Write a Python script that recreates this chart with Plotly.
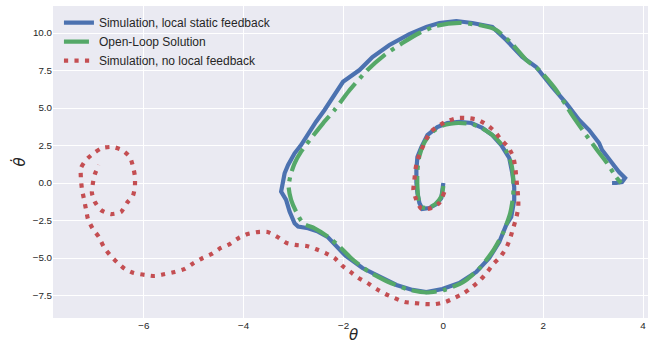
import plotly.graph_objects as go

# ---- data ----
blue_theta = [0.0, -0.01, -0.04, -0.14, -0.28, -0.42, -0.48, -0.52, -0.54, -0.54, -0.52, -0.44, -0.32, -0.12,
              0.08, 0.32, 0.56, 0.78, 0.98, 1.16, 1.32, 1.38, 1.42, 1.42, 1.36, 1.26, 1.12, 0.92, 0.66, 0.32,
              -0.02, -0.34, -0.62, -0.94, -1.28, -1.62, -1.96, -2.15, -2.31, -2.51, -2.71, -2.91, -2.98, -3.08,
              -3.15, -3.25, -3.21, -3.18, -3.11, -2.98, -2.85, -2.71, -2.55, -2.38, -2.25, -2.01, -1.68, -1.42,
              -1.08, -0.68, -0.34, -0.08, 0.26, 0.58, 0.98, 1.26, 1.58, 1.86, 2.18, 2.46, 2.72, 2.92, 3.12, 3.18,
              3.38, 3.52, 3.64, 3.58, 3.46, 3.38]
blue_thetadot = [0.0, -0.47, -1.0, -1.4, -1.67, -1.73, -1.33, -0.67, 0.0, 0.87, 1.73, 2.4, 3.2, 3.73,
                 4.0, 4.07, 4.0, 3.67, 3.2, 2.53, 1.67, 0.67, -0.27, -1.13, -2.27, -2.8, -3.93, -5.0, -5.93, -6.67,
                 -7.07, -7.27, -7.13, -6.8, -6.27, -5.67, -4.85, -4.13, -3.62, -3.24, -3.02, -2.91, -2.69, -1.91,
                 -1.13, -0.58, -0.02, 0.65, 1.2, 1.98, 2.53, 3.31, 4.09, 4.87, 5.53, 6.75, 7.53, 8.4,
                 9.2, 9.93, 10.4, 10.67, 10.8, 10.67, 10.4, 9.53, 8.4, 7.73, 6.4, 5.33, 4.2, 3.53, 2.67, 2.2,
                 1.33, 0.73, 0.33, 0.07, 0.0, 0.0]

green_theta = [0.0, -0.04, -0.16, -0.3, -0.44, -0.5, -0.52, -0.52, -0.48, -0.38, -0.22, 0.0, 0.3, 0.6,
               0.85, 1.05, 1.25, 1.36, 1.4, 1.4, 1.34, 1.2, 1.0, 0.72, 0.4, 0.0, -0.34, -0.7, -1.1, -1.5,
               -1.85, -2.08, -2.31, -2.58, -2.81, -2.95, -3.05, -3.1, -3.06, -2.98, -2.85, -2.65, -2.41, -2.18,
               -1.9, -1.52, -1.18, -0.82, -0.48, -0.14, 0.32, 0.72, 1.06, 1.36, 1.66, 1.92, 2.26, 2.58, 2.86,
               3.08, 3.28, 3.46, 3.56]
green_thetadot = [-0.2, -0.9, -1.4, -1.65, -1.6, -1.0, -0.2, 0.8, 1.8, 2.7, 3.4, 3.85, 4.0, 3.9,
                  3.5, 3.0, 2.2, 1.3, 0.3, -0.8, -2.0, -3.3, -4.5, -5.7, -6.6, -7.15, -7.3, -7.1, -6.6, -5.9,
                  -5.0, -4.24, -3.58, -3.02, -2.69, -1.91, -1.13, -0.24, 0.53, 1.31, 2.09, 2.98, 3.98, 4.87,
                  6.1, 7.53, 8.53, 9.33, 10.0, 10.47, 10.67, 10.53, 10.2, 9.33, 8.2, 7.53, 6.2, 4.53, 3.2,
                  2.2, 1.33, 0.4, 0.0]

red_theta = [0.02, -0.08, -0.24, -0.44, -0.54, -0.6, -0.58, -0.56, -0.52, -0.44, -0.36, -0.26, -0.1, 0.08,
             0.28, 0.48, 0.7, 0.88, 1.04, 1.16, 1.3, 1.4, 1.44, 1.46, 1.48, 1.5, 1.5, 1.46, 1.4, 1.34, 1.26,
             1.14, 1.0, 0.88, 0.74, 0.58, 0.42, 0.22, 0.04, -0.16, -0.36, -0.58, -0.78, -0.98, -1.16, -1.34,
             -1.52, -1.7, -1.86, -2.02, -2.18, -2.36, -2.56, -2.74, -2.96, -3.14, -3.32, -3.52, -3.72, -3.92,
             -4.1, -4.28, -4.46, -4.64, -4.82, -5.0, -5.18, -5.38, -5.58, -5.78, -5.98, -6.2, -6.38, -6.54,
             -6.68, -6.8, -6.9, -7.02, -7.12, -7.16, -7.2, -7.24, -7.26, -7.26, -7.16, -7.0, -6.84, -6.62,
             -6.44, -6.28, -6.22, -6.18, -6.18, -6.22, -6.34, -6.46, -6.66, -6.86, -6.98, -7.04, -7.02, -6.98,
             -6.9]
red_thetadot = [-0.6, -1.33, -1.67, -1.73, -1.13, -0.47, 0.2, 0.87, 1.53, 2.2, 2.8, 3.4, 3.8, 4.13,
                4.33, 4.33, 4.2, 3.87, 3.4, 2.87, 2.4, 1.73, 1.07, 0.4, -0.27, -1.0, -1.67, -2.33, -3.0, -3.67,
                -4.33, -4.93, -5.4, -5.93, -6.47, -6.93, -7.33, -7.67, -7.93, -8.07, -8.07, -8.0, -7.93, -7.67,
                -7.4, -7.07, -6.67, -6.33, -5.93, -5.53, -5.0, -4.67, -4.4, -4.2, -4.13, -4.0, -3.6, -3.27,
                -3.27, -3.4, -3.67, -4.07, -4.33, -4.73, -5.0, -5.33, -5.73, -5.93, -6.07, -6.2, -6.13, -6.0,
                -5.73, -5.27, -4.8, -4.27, -3.6, -3.07, -2.4, -1.73, -1.07, -0.4, 0.27, 1.0, 1.53, 2.0, 2.33,
                2.4, 2.2, 1.73, 1.13, 0.47, -0.27, -0.87, -1.33, -1.93, -2.07, -1.8, -1.27, -0.67, 0.0, 0.6,
                1.2]

x_ticks = [-6, -4, -2, 0, 2, 4]
x_ticktext = ["\u22126", "\u22124", "\u22122", "0", "2", "4"]
y_ticks = [-7.5, -5.0, -2.5, 0.0, 2.5, 5.0, 7.5, 10.0]
y_ticktext = ["\u22127.5", "\u22125.0", "\u22122.5", "0.0", "2.5", "5.0", "7.5", "10.0"]

names = ["Simulation, local static feedback", "Open-Loop Solution", "Simulation, no local feedback"]
colors = ["#4C72B0", "#55A868", "#C44E52"]
x_label = "θ"
y_label = "θ\u0307"

fig = go.Figure()
fig.add_trace(go.Scatter(x=blue_theta, y=blue_thetadot, mode="lines", name=names[0],
                         line=dict(color=colors[0], width=4.2)))
fig.add_trace(go.Scatter(x=green_theta, y=green_thetadot, mode="lines", name=names[1],
                         line=dict(color=colors[1], width=4.2, dash="25px,6.5px,4px,6.5px",
                                   shape="spline", smoothing=0.6)))
fig.add_trace(go.Scatter(x=red_theta, y=red_thetadot, mode="lines", name=names[2],
                         line=dict(color=colors[2], width=4.2, dash="4.2px,6.3px",
                                   shape="spline", smoothing=0.6)))

label_font = dict(family="DejaVu Sans", size=15, style="italic", color="#262626")

fig.update_layout(
    width=648, height=343,
    margin=dict(l=53, r=0, t=6, b=25),
    paper_bgcolor="white",
    plot_bgcolor="#EAEAF2",
    font=dict(family="Liberation Sans, Arial, sans-serif", color="#262626"),
    showlegend=True,
    legend=dict(x=0.01, y=0.993, xanchor="left", yanchor="top",
                bgcolor="rgba(0,0,0,0)", font=dict(size=12.0, color="#262626"),
                itemwidth=30),
    xaxis=dict(range=[-7.82, 4.1], tickvals=x_ticks, ticktext=x_ticktext,
               showgrid=True, gridcolor="white", gridwidth=1, zeroline=False,
               showline=False, ticks="", tickfont=dict(size=9.8, color="#262626"),
               automargin=False),
    yaxis=dict(range=[-9.0, 11.8], tickvals=y_ticks, ticktext=y_ticktext,
               showgrid=True, gridcolor="white", gridwidth=1, zeroline=False,
               showline=False, ticks="", tickfont=dict(size=9.8, color="#262626"),
               automargin=False,
               title=dict(text=y_label, standoff=3, font=label_font)),
    annotations=[dict(text=x_label, xref="paper", yref="paper", x=0.505, y=-0.056,
                      xanchor="center", yanchor="middle", showarrow=False, font=label_font)],
)

fig.write_html("out.html", config={"displayModeBar": False},
               post_script="document.body.style.margin='0px';document.body.style.overflow='hidden';")
